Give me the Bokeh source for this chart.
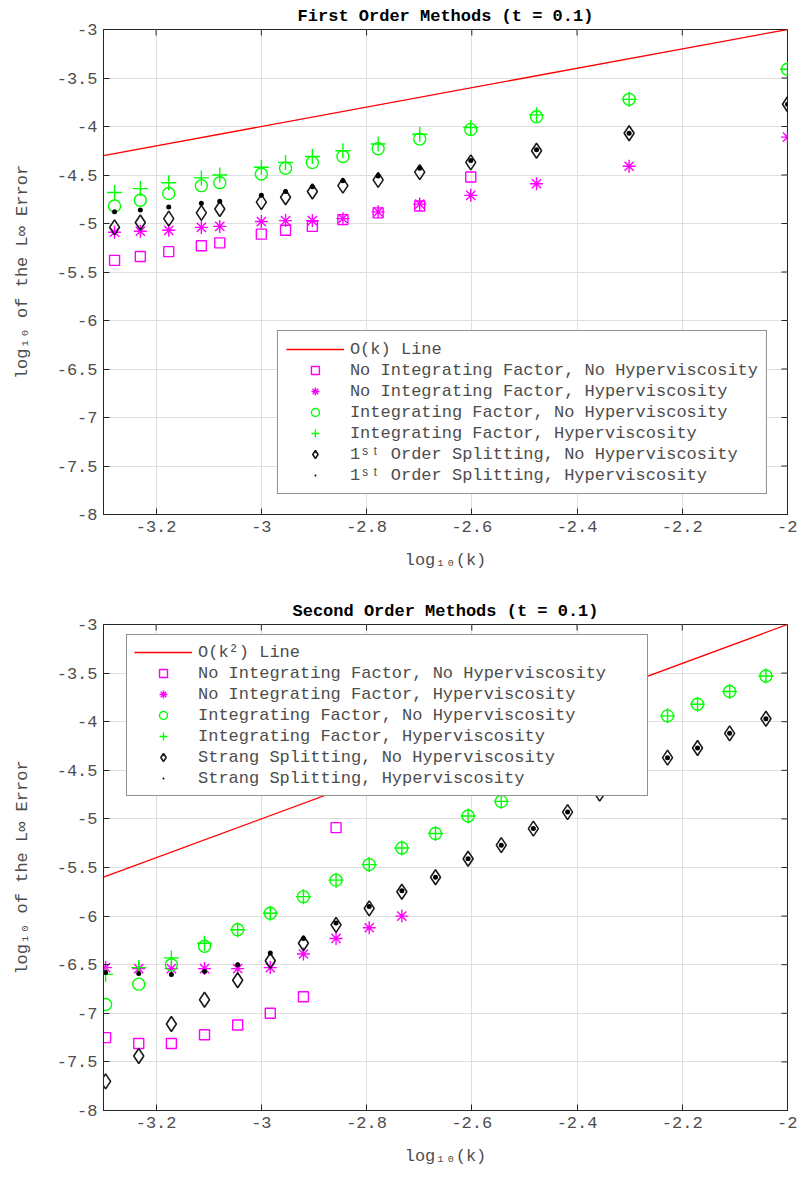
from bokeh.plotting import figure
from bokeh.layouts import column
from bokeh.models import Range1d, FixedTicker, Legend, LegendItem
from bokeh.embed import file_html
from bokeh.resources import INLINE

nan = float("nan")

# ---- axis ticks -------------------------------------------------------------
x_ticks = [-3.2, -3.0, -2.8, -2.6, -2.4, -2.2, -2.0]
x_tick_labels = ["-3.2", "-3", "-2.8", "-2.6", "-2.4", "-2.2", "-2"]
y_ticks = [-8.0, -7.5, -7.0, -6.5, -6.0, -5.5, -5.0, -4.5, -4.0, -3.5, -3.0]
y_tick_labels = ["-8", "-7.5", "-7", "-6.5", "-6", "-5.5", "-5", "-4.5", "-4", "-3.5", "-3"]
x_lim = (-3.3, -2.0)
y_lim = (-8.0, -3.0)

# ---- first order methods: log10(k) and log10 of the max-norm error ---------
k1 = [-3.279, -3.230, -3.176, -3.114, -3.079, -3.000, -2.954, -2.903,
      -2.845, -2.778, -2.699, -2.602, -2.477, -2.301, -2.000]
noif_nohv_1 = [-5.38, -5.34, -5.29, -5.23, -5.20, -5.11, -5.07, -5.03,
               -4.96, -4.89, -4.82, -4.52, nan, nan, nan]
noif_hv_1 = [-5.09, -5.08, -5.07, -5.04, -5.03, -4.98, -4.97, -4.97,
             -4.95, -4.88, -4.80, -4.71, -4.59, -4.41, -4.11]
if_nohv_1 = [-4.82, -4.76, -4.69, -4.61, -4.58, -4.49, -4.43, -4.37,
             -4.31, -4.23, -4.13, -4.03, -3.90, -3.72, -3.41]
if_hv_1 = [-4.68, -4.64, -4.58, -4.53, -4.50, -4.42, -4.37, -4.31,
           -4.25, -4.18, -4.08, -4.01, -3.88, -3.72, -3.41]
split_nohv_1 = [-5.04, -4.99, -4.95, -4.89, -4.85, -4.78, -4.73, -4.67,
                -4.61, -4.55, -4.47, -4.37, -4.25, -4.07, -3.77]
split_hv_1 = [-4.88, -4.86, -4.83, -4.79, -4.77, -4.71, -4.67, -4.62,
              -4.56, -4.51, -4.43, -4.35, -4.24, -4.07, -3.77]
ref_x_1 = [-3.3, -2.0]
ref_y_1 = [-4.3, -3.0]

# ---- second order methods ---------------------------------------------------
k2 = [-3.296, -3.233, -3.171, -3.108, -3.045, -2.983, -2.920, -2.858,
      -2.795, -2.733, -2.669, -2.607, -2.544, -2.483, -2.418, -2.357,
      -2.294, -2.228, -2.171, -2.110, -2.041]
noif_nohv_2 = [-7.25, -7.31, -7.31, -7.22, -7.12, -7.00, -6.83, -5.09,
               nan, nan, nan, nan, nan, nan, nan, nan, nan, nan, nan, nan, nan]
noif_hv_2 = [-6.53, -6.54, -6.54, -6.54, -6.54, -6.53, -6.39, -6.23,
             -6.12, -6.00, nan, nan, nan, nan, nan, nan, nan, nan, nan, nan, nan]
if_nohv_2 = [-6.91, -6.70, -6.50, -6.31, -6.14, -5.97, -5.80, -5.63,
             -5.47, -5.30, -5.15, -4.97, -4.82, nan, nan, nan, nan,
             -3.94, -3.82, -3.69, -3.53]
if_hv_2 = [-6.60, -6.53, -6.43, -6.28, -6.14, -5.97, -5.80, -5.63,
           -5.47, -5.30, -5.15, -4.97, -4.82, nan, nan, nan, nan,
           -3.94, -3.82, -3.69, -3.53]
split_nohv_2 = [-7.70, -7.44, -7.11, -6.86, -6.66, -6.46, -6.28, -6.09,
                -5.92, -5.75, -5.60, -5.41, -5.27, -5.10, -4.93, -4.74, nan,
                -4.37, -4.27, -4.12, -3.97]
split_hv_2 = [-6.58, -6.59, -6.60, -6.57, -6.50, -6.38, -6.23, -6.07,
              -5.90, -5.74, -5.60, -5.41, -5.27, -5.10, -4.93, -4.74, nan,
              -4.37, -4.27, -4.12, -3.97]
ref_x_2 = [-3.3, -2.0]
ref_y_2 = [-5.6, -3.0]

FONT = "Liberation Mono"
TXT = "#4d4d4d"
AX = "#262626"
MAGENTA = "#FF00FF"
GREEN = "#00FF00"
DARK = "#1a1a1a"

FRAME_W = 684
FRAME_H = 486
TICK_LEN = 6  # inward tick length in pixels


def style_axis(ax, ticks, labels):
    ax.ticker = FixedTicker(ticks=ticks)
    ax.major_label_overrides = {t: s for t, s in zip(ticks, labels)}
    ax.minor_tick_line_color = None
    ax.major_tick_in = TICK_LEN
    ax.major_tick_out = 0
    ax.axis_line_color = AX
    ax.major_tick_line_color = AX
    ax.major_label_text_font = FONT
    ax.major_label_text_color = TXT
    ax.major_label_text_font_size = "17px"
    ax.major_label_standoff = 6
    ax.axis_label_text_font = FONT
    ax.axis_label_text_font_size = "17px"
    ax.axis_label_text_font_style = "normal"
    ax.axis_label_text_color = TXT


def panel(title, xs, series, ref_x, ref_y, ref_label, border_top, height):
    p = figure(width=797, height=height,
               x_range=Range1d(*x_lim), y_range=Range1d(*y_lim),
               output_backend="svg", toolbar_location=None,
               min_border_left=103, min_border_right=10,
               min_border_top=border_top,
               min_border_bottom=height - border_top - FRAME_H)
    p.title.text = title
    p.title.text_font = FONT
    p.title.text_font_size = "17px"
    p.title.text_font_style = "bold"
    p.title.text_color = "#000000"
    p.title.align = "center"
    p.title.standoff = 8
    p.outline_line_color = AX
    p.background_fill_color = "white"

    style_axis(p.xaxis[0], x_ticks, x_tick_labels)
    style_axis(p.yaxis[0], y_ticks, y_tick_labels)
    p.xaxis.axis_label = "log\u2081\u2080(k)"
    p.yaxis.axis_label = "log\u2081\u2080 of the L\u221e Error"
    p.xaxis.axis_label_standoff = 16
    p.yaxis.axis_label_standoff = 22

    for g in (p.xgrid[0], p.ygrid[0]):
        g.grid_line_color = "#dedede"
        g.grid_line_width = 1
    p.xgrid.ticker = FixedTicker(ticks=x_ticks)
    p.ygrid.ticker = FixedTicker(ticks=y_ticks)

    # inward ticks along the top and right edges of the box
    dy = (y_lim[1] - y_lim[0]) * TICK_LEN / FRAME_H
    dx = (x_lim[1] - x_lim[0]) * TICK_LEN / FRAME_W
    p.segment(x0=x_ticks, y0=[y_lim[1]] * len(x_ticks),
              x1=x_ticks, y1=[y_lim[1] - dy] * len(x_ticks),
              line_color=AX, line_width=1)
    p.segment(x0=[x_lim[1]] * len(y_ticks), y0=y_ticks,
              x1=[x_lim[1] - dx] * len(y_ticks), y1=y_ticks,
              line_color=AX, line_width=1)

    items = []
    ref = p.line(ref_x, ref_y, line_color="#FF0000", line_width=1.3)
    items.append(LegendItem(label=ref_label, renderers=[ref]))
    for label, ys, kw in series:
        r = p.scatter(xs, ys, **kw)
        items.append(LegendItem(label=label, renderers=[r]))

    leg = Legend(items=items)
    leg.label_text_font = FONT
    leg.label_text_font_size = "17px"
    leg.label_text_color = TXT
    leg.label_height = 20
    leg.glyph_height = 20
    leg.glyph_width = 58
    leg.label_standoff = 6
    leg.spacing = 1
    leg.padding = 8
    leg.margin = 20
    leg.border_line_color = AX
    leg.border_line_width = 1
    leg.background_fill_alpha = 1.0
    p.add_layout(leg)
    return p, leg


def styles(split_labels):
    return [
        ("No Integrating Factor, No Hyperviscosity",
         dict(marker="square", size=10, line_color=MAGENTA, fill_color=None, line_width=1.4)),
        ("No Integrating Factor, Hyperviscosity",
         dict(marker="asterisk", size=13, line_color=MAGENTA, line_width=1.4)),
        ("Integrating Factor, No Hyperviscosity",
         dict(marker="circle", size=12, line_color=GREEN, fill_color=None, line_width=1.4)),
        ("Integrating Factor, Hyperviscosity",
         dict(marker="cross", size=15, line_color=GREEN, line_width=1.4)),
        (split_labels[0],
         dict(marker="diamond", size=15, line_color=DARK, fill_color=None, line_width=1.6)),
        (split_labels[1],
         dict(marker="dot", size=20, line_color="#000000", line_width=1)),
    ]


st1 = styles(["1\u02e2\u1d57 Order Splitting, No Hyperviscosity",
              "1\u02e2\u1d57 Order Splitting, Hyperviscosity"])
data1 = [noif_nohv_1, noif_hv_1, if_nohv_1, if_hv_1, split_nohv_1, split_hv_1]
series1 = [(lab, ys, kw) for (lab, kw), ys in zip(st1, data1)]

st2 = styles(["Strang Splitting, No Hyperviscosity",
              "Strang Splitting, Hyperviscosity"])
data2 = [noif_nohv_2, noif_hv_2, if_nohv_2, if_hv_2, split_nohv_2, split_hv_2]
series2 = [(lab, ys, kw) for (lab, kw), ys in zip(st2, data2)]

p1, leg1 = panel("First Order Methods (t = 0.1)", k1, series1, ref_x_1, ref_y_1,
                 "O(k) Line", 28, 589)
leg1.location = "bottom_right"

p2, leg2 = panel("Second Order Methods (t = 0.1)", k2, series2, ref_x_2, ref_y_2,
                 "O(k\u00b2) Line", 35, 589)
# legend box anchored by its lower-left corner, in pixels from the frame corner
leg2.label_width = 442
leg2.margin = 0
leg2.location = (23, FRAME_H - 12 - 160)
leg2.padding = 7

layout = column(p1, p2, spacing=0)
open("out.html", "w").write(file_html(layout, INLINE))
